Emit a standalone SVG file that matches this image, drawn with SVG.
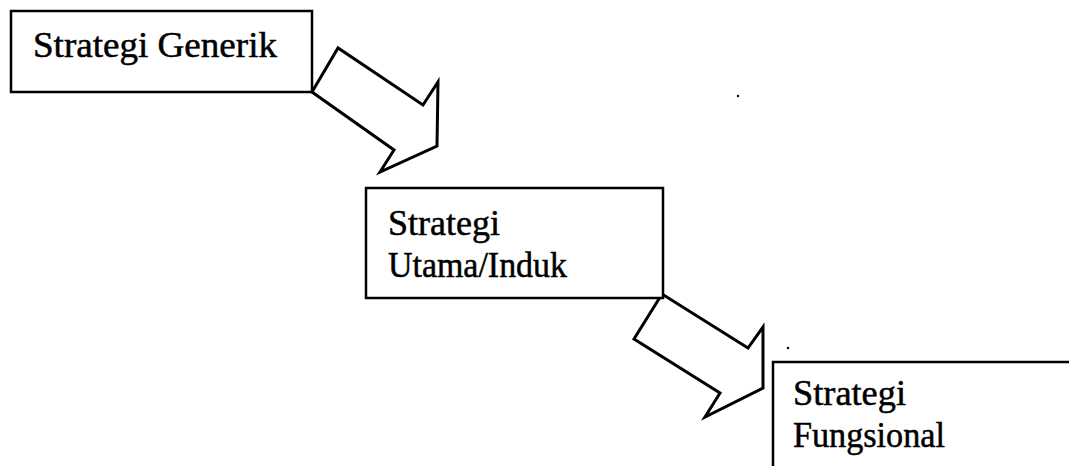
<svg xmlns="http://www.w3.org/2000/svg" width="1069" height="466" viewBox="0 0 1069 466">
  <style>
    .box { fill: #ffffff; stroke: #000000; stroke-width: 2.5; }
    .arrow { fill: #ffffff; stroke: #000000; stroke-width: 3; stroke-linejoin: miter; }
    .label { font-family: "Liberation Serif", "Times New Roman", serif; font-size: 36px; fill: #000000; stroke: #000000; stroke-width: 0.5; }
  </style>
  <rect width="1069" height="466" fill="#ffffff"/>

  <!-- block arrows between the levels -->
  <g id="connectors">
    <polygon class="arrow" points="312,92 338,48 423,105 438,82 437,146 380,172 394,150"/>
    <polygon class="arrow" points="662,294 634,339 720,393 705,417 763,388 763,327 748,348"/>
  </g>

  <g id="node-generik">
    <rect class="box" x="11" y="11" width="301" height="81"/>
    <text class="label" x="33" y="57" textLength="244" lengthAdjust="spacingAndGlyphs">Strategi Generik</text>
  </g>

  <g id="node-utama">
    <rect class="box" x="366" y="188" width="297" height="110"/>
    <text class="label" x="388" y="235" textLength="112" lengthAdjust="spacingAndGlyphs">Strategi</text>
    <text class="label" x="388" y="277" textLength="179" lengthAdjust="spacingAndGlyphs">Utama/Induk</text>
  </g>

  <g id="node-fungsional">
    <rect class="box" x="773" y="362" width="310" height="120"/>
    <text class="label" x="793" y="405" textLength="113" lengthAdjust="spacingAndGlyphs">Strategi</text>
    <text class="label" x="793" y="447" textLength="152" lengthAdjust="spacingAndGlyphs">Fungsional</text>
  </g>

  <!-- stray specks -->
  <circle cx="738" cy="96" r="1.2" fill="#000000"/>
  <circle cx="788" cy="348" r="1.2" fill="#000000"/>
</svg>
